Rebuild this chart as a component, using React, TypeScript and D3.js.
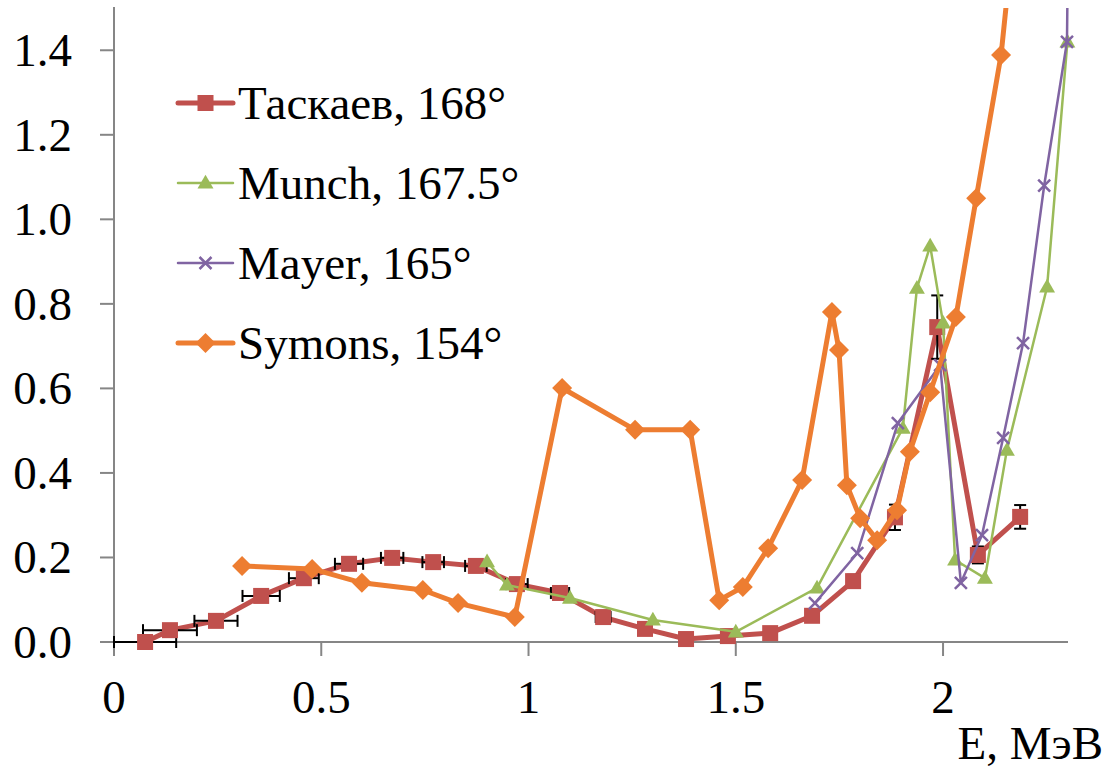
import React from 'react'
import * as d3 from 'd3'

// Таскаев, 168°
const taskaevE = [0.075, 0.135, 0.246, 0.355, 0.458, 0.567, 0.671, 0.77, 0.873, 0.972, 1.076, 1.18, 1.281, 1.38, 1.481, 1.583, 1.684, 1.783, 1.884, 1.986, 2.084, 2.186]
const taskaevV = [0.0, 0.028, 0.05, 0.109, 0.151, 0.185, 0.199, 0.189, 0.18, 0.137, 0.116, 0.059, 0.031, 0.007, 0.014, 0.021, 0.062, 0.144, 0.295, 0.745, 0.206, 0.296]
const taskaevEErr = [0.075, 0.065, 0.052, 0.045, 0.036, 0.034, 0.027, 0.026, 0.026, 0.026, 0.022, 0.018, 0.016, 0.015, 0.013, 0.012, 0.012, 0.01, 0.01, 0.01, 0.01, 0.01]
const taskaevVErr = [0, 0, 0, 0, 0, 0, 0, 0, 0, 0, 0, 0, 0, 0, 0, 0, 0.01, 0.015, 0.03, 0.075, 0.02, 0.028]

// Munch, 167.5°
const munchE = [0.9, 0.948, 1.1, 1.3, 1.5, 1.696, 1.903, 1.937, 1.969, 2.0, 2.029, 2.101, 2.154, 2.251, 2.3]
const munchV = [0.19, 0.135, 0.104, 0.052, 0.024, 0.128, 0.506, 0.837, 0.937, 0.755, 0.194, 0.151, 0.454, 0.84, 1.42]

// Mayer, 165°
const mayerE = [1.691, 1.793, 1.891, 1.993, 2.043, 2.094, 2.145, 2.193, 2.244, 2.299, 2.31]
const mayerV = [0.092, 0.21, 0.518, 0.655, 0.14, 0.253, 0.483, 0.707, 1.08, 1.42, 2.5]

// Symons, 154°
const symonsE = [0.309, 0.478, 0.598, 0.745, 0.83, 0.967, 1.081, 1.257, 1.39, 1.46, 1.517, 1.578, 1.66, 1.732, 1.749, 1.768, 1.8, 1.841, 1.889, 1.92, 1.969, 2.031, 2.08, 2.14, 2.2]
const symonsV = [0.18, 0.173, 0.14, 0.123, 0.092, 0.059, 0.601, 0.502, 0.502, 0.099, 0.13, 0.222, 0.383, 0.781, 0.691, 0.371, 0.293, 0.241, 0.312, 0.45, 0.591, 0.769, 1.05, 1.389, 1.96]

const xTicks = [0, 0.5, 1, 1.5, 2]
const xTickLabels = ['0', '0.5', '1', '1.5', '2']
const yTicks = [0, 0.2, 0.4, 0.6, 0.8, 1.0, 1.2, 1.4]

const FONT = '"Times New Roman", Times, Tinos, "Liberation Serif", "DejaVu Serif", "Noto Serif", serif'
const AXIS = '#868686'
const txt = { fontFamily: FONT, fontSize: 47, fill: '#000' }

type Series = {
  name: string
  e: number[]
  v: number[]
  color: string
  width: number
  marker: 'square' | 'triangle' | 'x' | 'diamond'
}

const series: Series[] = [
  { name: 'Таскаев, 168°', e: taskaevE, v: taskaevV, color: '#C0504D', width: 5, marker: 'square' },
  { name: 'Munch, 167.5°', e: munchE, v: munchV, color: '#9BBB59', width: 2.5, marker: 'triangle' },
  { name: 'Mayer, 165°', e: mayerE, v: mayerV, color: '#8064A2', width: 2.5, marker: 'x' },
  { name: 'Symons, 154°', e: symonsE, v: symonsV, color: '#ED7D31', width: 5, marker: 'diamond' },
]

function Marker({ kind, cx, cy, color }: { kind: Series['marker']; cx: number; cy: number; color: string }) {
  if (kind === 'square') return <rect x={cx - 8} y={cy - 8} width={16} height={16} fill={color} />
  if (kind === 'triangle') {
    const p = d3.symbol(d3.symbolTriangle, 110)()
    return <path d={p || ''} transform={`translate(${cx},${cy + 1})`} fill={color} />
  }
  if (kind === 'diamond') {
    return <path d={`M${cx},${cy - 10}L${cx + 10},${cy}L${cx},${cy + 10}L${cx - 10},${cy}Z`} fill={color} />
  }
  return (
    <path d={`M${cx - 6},${cy - 6}L${cx + 6},${cy + 6}M${cx - 6},${cy + 6}L${cx + 6},${cy - 6}`} stroke={color} strokeWidth={2.5} />
  )
}

export default function App() {
  const W = 1112, H = 768
  const x = d3.scaleLinear().domain([0, 2.3]).range([114, 1067.4])
  const y = d3.scaleLinear().domain([0, 1.5]).range([642, 8])

  const line = d3.line<[number, number]>().x(d => x(d[0])).y(d => y(d[1]))

  return (
    <svg width={W} height={H} style={{ position: 'absolute', left: 0, top: 0, background: '#fff' }}>
      <defs>
        <clipPath id="plot">
          <rect x={100} y={8} width={980} height={650} />
        </clipPath>
      </defs>

      {/* axes */}
      <line x1={114} x2={114} y1={7} y2={656} stroke={AXIS} strokeWidth={2} />
      <line x1={114} x2={1068} y1={642} y2={642} stroke={AXIS} strokeWidth={2} />
      {yTicks.map(t => (
        <g key={'y' + t}>
          <line x1={100} x2={114} y1={y(t)} y2={y(t)} stroke={AXIS} strokeWidth={2} />
          <text x={72} y={y(t) + 16} textAnchor="end" style={txt}>{t.toFixed(1)}</text>
        </g>
      ))}
      {xTicks.map((t, i) => (
        <g key={'x' + t}>
          <line x1={x(t)} x2={x(t)} y1={642} y2={656} stroke={AXIS} strokeWidth={2} />
          <text x={x(t)} y={713} textAnchor="middle" style={txt}>{xTickLabels[i]}</text>
        </g>
      ))}
      <text x={1103} y={759} textAnchor="end" style={txt}>E, МэВ</text>

      <g clipPath="url(#plot)">
        {series.map(s => {
          const pts = s.e.map((e, i) => [e, s.v[i]] as [number, number])
          return (
            <g key={s.name}>
              <path d={line(pts) || ''} fill="none" stroke={s.color} strokeWidth={s.width} strokeLinejoin="round" />
              {s.marker === 'square' && pts.map((p, i) => {
                const ex = taskaevEErr[i], ey = taskaevVErr[i]
                const px = x(p[0]), py = y(p[1])
                return (
                  <g key={i} stroke="#000" strokeWidth={2}>
                    {ex > 0 && (
                      <>
                        <line x1={x(p[0] - ex)} x2={x(p[0] + ex)} y1={py} y2={py} />
                        <line x1={x(p[0] - ex)} x2={x(p[0] - ex)} y1={py - 6} y2={py + 6} />
                        <line x1={x(p[0] + ex)} x2={x(p[0] + ex)} y1={py - 6} y2={py + 6} />
                      </>
                    )}
                    {ey > 0 && (
                      <>
                        <line x1={px} x2={px} y1={y(p[1] - ey)} y2={y(p[1] + ey)} />
                        <line x1={px - 6} x2={px + 6} y1={y(p[1] - ey)} y2={y(p[1] - ey)} />
                        <line x1={px - 6} x2={px + 6} y1={y(p[1] + ey)} y2={y(p[1] + ey)} />
                      </>
                    )}
                  </g>
                )
              })}
              {pts.map((p, i) => (
                <Marker key={i} kind={s.marker} cx={x(p[0])} cy={y(p[1])} color={s.color} />
              ))}
            </g>
          )
        })}
      </g>

      {/* legend */}
      {series.map((s, i) => {
        const cy = 103 + i * 80
        return (
          <g key={'lg' + s.name}>
            <line x1={178} x2={233} y1={cy} y2={cy} stroke={s.color} strokeWidth={s.width} strokeLinecap="round" />
            <Marker kind={s.marker} cx={205.5} cy={cy} color={s.color} />
            <text x={238} y={cy + 16} style={txt}>{s.name}</text>
          </g>
        )
      })}
    </svg>
  )
}
